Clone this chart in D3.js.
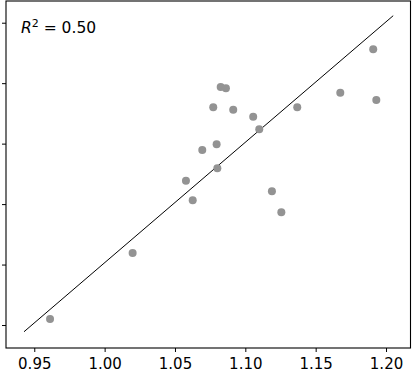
<!DOCTYPE html>
<html>
<head>
<meta charset="utf-8">
<script src="https://cdn.jsdelivr.net/npm/d3@7"></script>
<style>
    body { margin: 0; background: #fff; }
    svg { display: block; font-family: "DejaVu Sans", sans-serif; }
</style>
</head>
<body>
<svg id="chart" width="412" height="372"></svg>
<script>
let xValues = [0.9612, 1.0199, 1.0825, 1.0862, 1.0772, 1.0914, 1.1056, 1.1099, 1.0796, 1.0694,
    1.0801, 1.0578, 1.0626, 1.1189, 1.1256, 1.1909, 1.1675, 1.1931, 1.1369]
let yValues = [0.8099, 0.9191, 1.1936, 1.1915, 1.1601, 1.1561, 1.1445, 1.1237, 1.0990, 1.0895,
    1.0592, 1.0387, 1.0062, 1.0211, 0.9864, 1.2560, 1.1842, 1.1721, 1.1601]
let fitX = [0.9427, 1.2051]
let fitY = [0.7889, 1.3116]
let xTicks = [0.95, 1.00, 1.05, 1.10, 1.15, 1.20]
let yTicks = [0.8, 0.9, 1.0, 1.1, 1.2, 1.3]
let r2Label = '0.50'

let svg = d3.select('#chart')
let margin = {top: 1, right: 1.5, bottom: 24, left: 6},
    width = +svg.attr('width') - margin.left - margin.right,
    height = +svg.attr('height') - margin.top - margin.bottom

let g = svg.append('g')
    .attr('transform', 'translate(' + margin.left + ',' + margin.top + ')')

let x = d3.scaleLinear()
    .domain([0.9299, 1.2174])
    .range([0, width])
let y = d3.scaleLinear()
    .domain([0.762, 1.3359])
    .range([height, 0])

// regression line
g.append('line')
    .attr('x1', x(fitX[0])).attr('y1', y(fitY[0]))
    .attr('x2', x(fitX[1])).attr('y2', y(fitY[1]))
    .attr('stroke', '#000')
    .attr('stroke-width', 1)

g.selectAll('circle.pt').data(xValues).enter().append('circle')
    .attr('class', 'pt')
    .attr('cx', d => x(d))
    .attr('cy', (d, i) => y(yValues[i]))
    .attr('r', 4)
    .attr('fill', '#939393')

let xAxis = g.append('g')
    .attr('transform', 'translate(0,' + height + ')')
    .call(d3.axisBottom(x).tickValues(xTicks).tickFormat(d3.format('.2f')).tickSizeInner(4).tickSizeOuter(0).tickPadding(6.5))
// y labels fall outside the visible area in the reference, so only the ticks are kept
let yAxis = g.append('g')
    .call(d3.axisLeft(y).tickValues(yTicks).tickFormat('').tickSizeInner(4).tickSizeOuter(0))

;[xAxis, yAxis].forEach(ax => {
    ax.select('.domain').remove()
    ax.selectAll('.tick line').attr('stroke', '#000').attr('stroke-width', 1)
    ax.selectAll('.tick text').attr('fill', '#000').style('font-size', '15px')
        .style('font-family', '"DejaVu Sans", sans-serif')
})

// frame
g.append('rect')
    .attr('x', 0).attr('y', 0)
    .attr('width', width).attr('height', height)
    .attr('fill', 'none')
    .attr('stroke', '#000')
    .attr('stroke-width', 1.1)

let label = g.append('text')
    .attr('x', 15)
    .attr('y', 32)
    .style('font-size', '15.5px')
    .attr('fill', '#000')
label.append('tspan').style('font-style', 'italic').text('R')
label.append('tspan').attr('dy', -6).style('font-size', '11px').text('2')
label.append('tspan').attr('dy', 6).text(' = ' + r2Label)
</script>
</body>
</html>
